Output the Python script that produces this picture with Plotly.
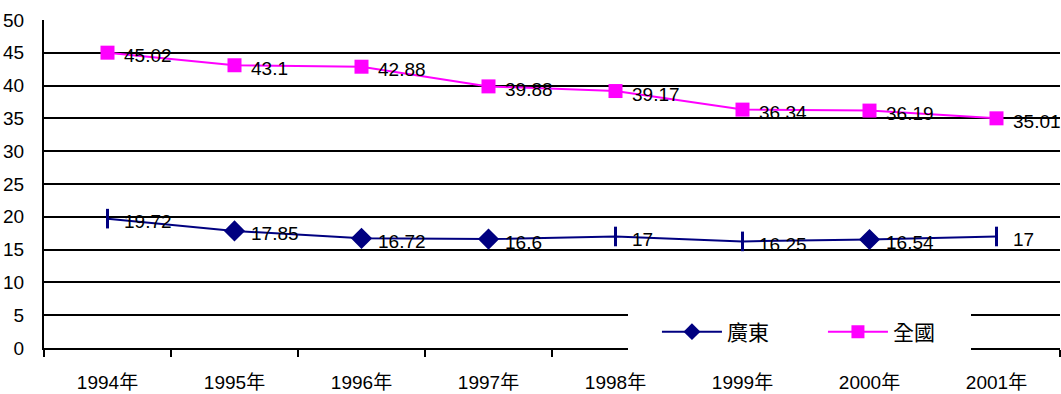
import plotly.graph_objects as go

# Categories and series values
years = ["1994年", "1995年", "1996年", "1997年", "1998年", "1999年", "2000年", "2001年"]
guangdong = [19.72, 17.85, 16.72, 16.6, 17, 16.25, 16.54, 17]
national = [45.02, 43.1, 42.88, 39.88, 39.17, 36.34, 36.19, 35.01]
guangdong_symbols = ["line-ns", "diamond", "diamond", "diamond", "line-ns", "line-ns", "diamond", "line-ns"]

font_family = "Liberation Sans, Arial, Noto Sans CJK TC, sans-serif"
navy = "#000080"
magenta = "#FF00FF"

fig = go.Figure()

fig.add_trace(go.Scatter(
    x=years, y=guangdong, name="廣東",
    mode="lines+markers", showlegend=False,
    line=dict(color=navy, width=2),
    marker=dict(symbol=guangdong_symbols,
                size=[13 if s == "diamond" else 14 for s in guangdong_symbols],
                color=navy, opacity=1, line=dict(color=navy, width=3)),
))

fig.add_trace(go.Scatter(
    x=years, y=national, name="全國",
    mode="lines+markers", showlegend=False,
    line=dict(color=magenta, width=2),
    marker=dict(symbol="square", size=14, color=magenta, opacity=1),
))

# Legend entries
fig.add_trace(go.Scatter(
    x=[None], y=[None], name="廣東", mode="lines+markers",
    line=dict(color=navy, width=2),
    marker=dict(symbol="diamond", size=13, color=navy),
))
fig.add_trace(go.Scatter(
    x=[None], y=[None], name="全國", mode="lines+markers",
    line=dict(color=magenta, width=2),
    marker=dict(symbol="square", size=13, color=magenta),
))

# Value labels to the right of each point
annotations = []
for series in (guangdong, national):
    for yr, v in zip(years, series):
        annotations.append(dict(
            x=yr, y=v, xref="x", yref="y", text=f"{v:g}",
            showarrow=False, xanchor="left", yanchor="middle",
            xshift=14, yshift=-3,
            font=dict(family=font_family, size=19, color="black"),
        ))

fig.update_layout(
    width=1061, height=394,
    margin=dict(l=44, r=1, t=20, b=46),
    paper_bgcolor="white", plot_bgcolor="white",
    font=dict(family=font_family, size=19, color="black"),
    showlegend=True,
    annotations=annotations,
    shapes=[dict(
        type="rect", xref="paper", yref="paper",
        x0=0.5748, x1=0.9124, y0=-0.045, y1=0.14,
        fillcolor="white", line=dict(width=0), layer="above",
    )],
    legend=dict(
        orientation="h",
        x=0.6033, xanchor="left", y=0.0488, yanchor="middle",
        bgcolor="rgba(255,255,255,0)",
        font=dict(family=font_family, size=21, color="black"),
        itemwidth=60,
        entrywidth=91,
    ),
)

fig.update_xaxes(
    type="category",
    showline=True, linecolor="black", linewidth=2,
    ticks="outside", ticklen=7, tickwidth=2, tickcolor="black",
    tickson="boundaries",
    showgrid=False,
    ticklabelstandoff=16,
    tickfont=dict(family=font_family, size=19),
    range=[-0.5, 7.5],
)

fig.update_yaxes(
    range=[0, 50], dtick=5,
    showline=True, linecolor="black", linewidth=2,
    showgrid=True, gridcolor="black", gridwidth=2,
    zeroline=False,
    ticks="", ticklabelstandoff=14,
    tickfont=dict(family=font_family, size=19),
)

fig.write_html("out.html")
